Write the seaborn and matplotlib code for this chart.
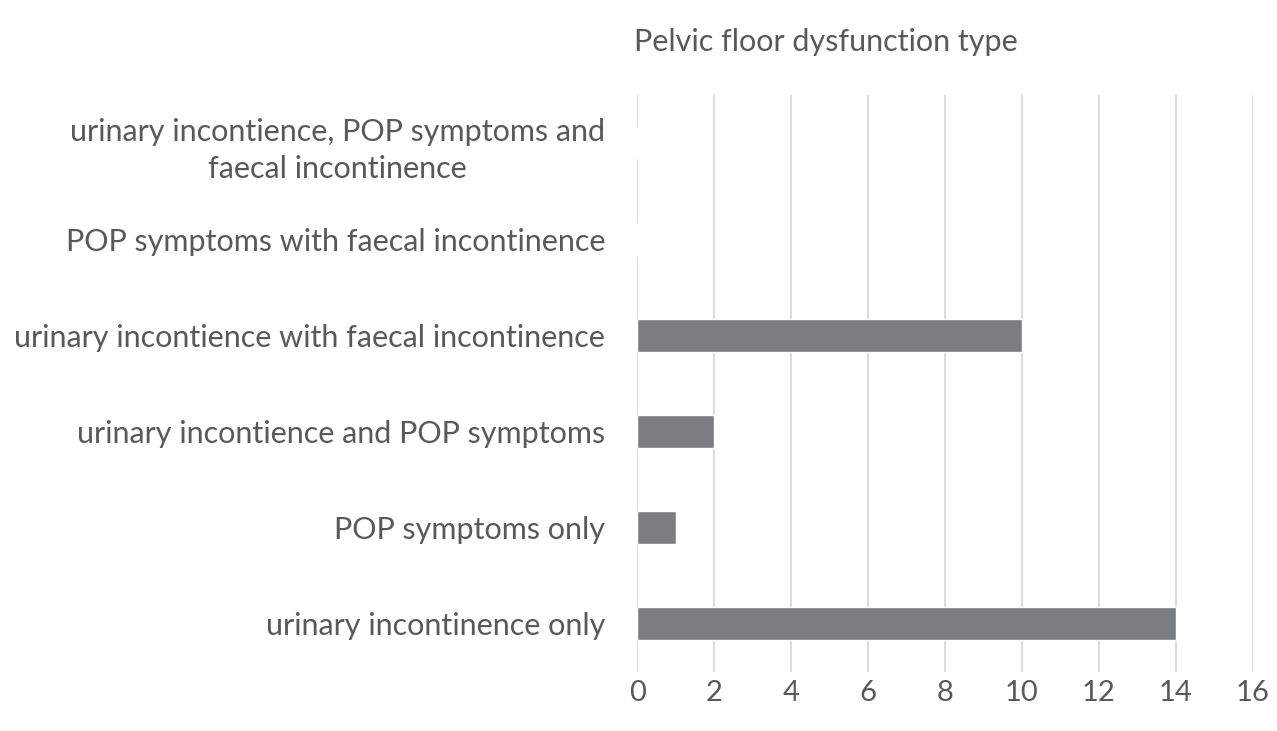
import matplotlib
matplotlib.use("Agg")
import matplotlib.pyplot as plt
import seaborn as sns
import pandas as pd

categories = [
    "urinary incontience, POP symptoms and\nfaecal incontinence",
    "POP symptoms with faecal incontinence",
    "urinary incontience with faecal incontinence",
    "urinary incontience and POP symptoms",
    "POP symptoms only",
    "urinary incontinence only",
]
values = [0, 0, 10, 2, 1, 14]
x_ticks = [0, 2, 4, 6, 8, 10, 12, 14, 16]

sns.set_theme(style="white")
plt.rcParams['font.family'] = ['Lato', 'DejaVu Sans']

df = pd.DataFrame({"category": categories, "value": values})

fig = plt.figure(figsize=(12.77, 7.31), dpi=100)
ax = fig.add_axes([0.499, 0.081, 0.482, 0.789])

text_color = "#595959"
ax.set_axisbelow(True)
ax.xaxis.grid(True, color="#d9d9d9", linewidth=1.3)
ax.yaxis.grid(False)
sns.barplot(data=df, x="value", y="category", color="#7c7d80", width=0.34,
            saturation=1, ax=ax, orient="h")

ax.set_xlim(0, 16)
ax.set_xticks(x_ticks)
ax.set_xticklabels([str(t) for t in x_ticks], fontsize=21, color=text_color)
ax.tick_params(axis="y", labelsize=22, labelcolor=text_color, length=0, pad=23)
ax.tick_params(axis="x", length=0, pad=6)
for lbl in ax.get_yticklabels():
    lbl.set_horizontalalignment("right")
    lbl.set_multialignment("center")
    lbl.set_linespacing(1.4)
for s in ax.spines.values():
    s.set_visible(False)
ax.set_xlabel("")
ax.set_ylabel("")

fig.text(0.647, 0.942, "Pelvic floor dysfunction type", ha="center", va="center",
         fontsize=22, color=text_color)

fig.savefig("out.png", dpi=100)
